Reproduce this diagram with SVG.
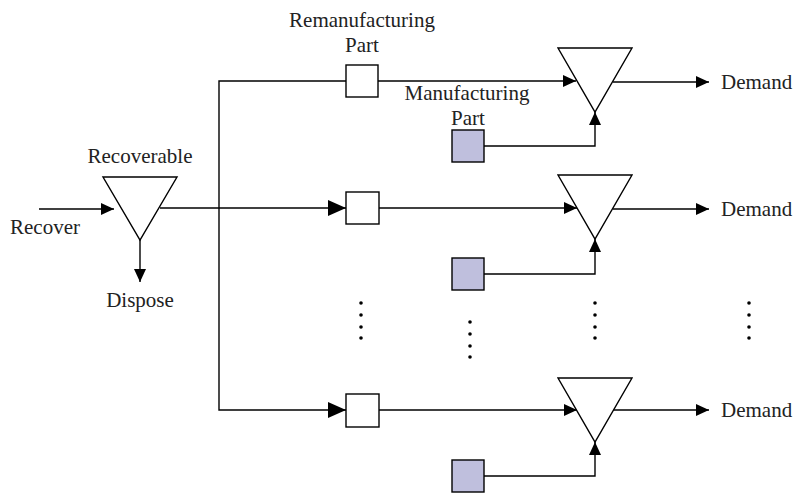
<svg xmlns="http://www.w3.org/2000/svg" width="794" height="495" viewBox="0 0 794 495">
<style>
text{font-family:"Liberation Serif","Times New Roman",serif;font-size:21px;fill:#222}
.mid{text-anchor:middle}
.tri{fill:#fff;stroke:#000;stroke-width:1.4}
.box{fill:#fff;stroke:#000;stroke-width:1.4}
.mbox{fill:#bfbfdd;stroke:#000;stroke-width:1.4}
.ln{fill:none;stroke:#000;stroke-width:1.4}
.s{marker-end:url(#as)}
.l{marker-end:url(#al)}
.dot{fill:#000}
</style>
<defs>
<marker id="as" markerUnits="userSpaceOnUse" markerWidth="13" markerHeight="12" refX="13" refY="6" orient="auto"><path d="M0,0 L13,6 L0,12 z" fill="#000"/></marker>
<marker id="al" markerUnits="userSpaceOnUse" markerWidth="18" markerHeight="16" refX="18" refY="8" orient="auto"><path d="M0,0 L18,8 L0,16 z" fill="#000"/></marker>
</defs>
<rect width="794" height="495" fill="#fff"/>
<g id="connectors">
<path class="ln s" d="M39,209 L114,209"/>
<path class="ln s" d="M140,240 L140,282"/>
<path class="ln l" d="M160,208 L346,208"/>
<path class="ln l" d="M346,81 L219,81 L219,410 L346,410"/>
<path class="ln s" d="M378,81 L576,81"/>
<path class="ln s" d="M379,208 L577,208"/>
<path class="ln s" d="M379,410 L577,410"/>
<path class="ln s" d="M613,82 L709,82"/>
<path class="ln s" d="M613,209 L709,209"/>
<path class="ln s" d="M613,410 L709,410"/>
<path class="ln s" d="M484,146 L595,146 L595,112"/>
<path class="ln s" d="M484,274 L595,274 L595,239"/>
<path class="ln s" d="M484,476 L595,476 L595,442"/>
</g>
<g id="recoverable">
<polygon class="tri" points="103,177 177,177 140,240"/>
<text class="mid" x="140" y="163">Recoverable</text>
</g>
<g id="recover"><text x="10" y="234">Recover</text></g>
<g id="dispose"><text class="mid" x="140" y="307">Dispose</text></g>
<g id="reman1">
<rect class="box" x="346" y="65" width="32" height="32"/>
<text class="mid" x="362" y="27">Remanufacturing</text>
<text class="mid" x="362" y="52">Part</text>
</g>
<g id="reman2"><rect class="box" x="346" y="192" width="33" height="32"/></g>
<g id="reman3"><rect class="box" x="346" y="394" width="33" height="33"/></g>
<g id="manuf1">
<rect class="mbox" x="452" y="130" width="32" height="32"/>
<text class="mid" x="467" y="100">Manufacturing</text>
<text class="mid" x="468" y="125">Part</text>
</g>
<g id="manuf2"><rect class="mbox" x="452" y="258" width="32" height="32"/></g>
<g id="manuf3"><rect class="mbox" x="452" y="460" width="32" height="32"/></g>
<g id="stock1"><polygon class="tri" points="558,48 632,48 595,112"/></g>
<g id="stock2"><polygon class="tri" points="558,175 632,175 595,239"/></g>
<g id="stock3"><polygon class="tri" points="558,378 632,378 595,442"/></g>
<g id="demand1"><text x="721" y="89">Demand</text></g>
<g id="demand2"><text x="721" y="216">Demand</text></g>
<g id="demand3"><text x="721" y="417">Demand</text></g>
<g id="dots">
<circle class="dot" cx="361" cy="303" r="1.8"/><circle class="dot" cx="361" cy="315" r="1.8"/><circle class="dot" cx="361" cy="327" r="1.8"/><circle class="dot" cx="361" cy="338" r="1.8"/>
<circle class="dot" cx="470" cy="322" r="1.8"/><circle class="dot" cx="470" cy="334" r="1.8"/><circle class="dot" cx="470" cy="346" r="1.8"/><circle class="dot" cx="470" cy="357" r="1.8"/>
<circle class="dot" cx="595" cy="303" r="1.8"/><circle class="dot" cx="595" cy="315" r="1.8"/><circle class="dot" cx="595" cy="327" r="1.8"/><circle class="dot" cx="595" cy="338" r="1.8"/>
<circle class="dot" cx="749" cy="303" r="1.8"/><circle class="dot" cx="749" cy="315" r="1.8"/><circle class="dot" cx="749" cy="327" r="1.8"/><circle class="dot" cx="749" cy="338" r="1.8"/>
</g>
</svg>
